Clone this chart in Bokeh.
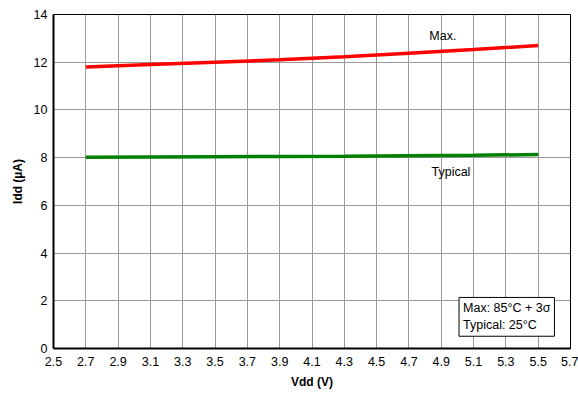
from bokeh.plotting import figure
from bokeh.models import Label, FixedTicker
from bokeh.embed import file_html
from bokeh.resources import INLINE

vdd = [2.7, 3.1, 3.5, 3.9, 4.3, 4.7, 5.1, 5.5]
idd_max = [11.8, 11.9, 12.0, 12.1, 12.23, 12.38, 12.53, 12.7]
idd_typ = [8.02, 8.03, 8.04, 8.05, 8.06, 8.08, 8.1, 8.13]
x_ticks = [2.5, 2.7, 2.9, 3.1, 3.3, 3.5, 3.7, 3.9, 4.1, 4.3, 4.5, 4.7, 4.9, 5.1, 5.3, 5.5, 5.7]
y_ticks = [0, 2, 4, 6, 8, 10, 12, 14]

FONT = "Liberation Sans"

p = figure(width=578, height=394, output_backend="svg", toolbar_location=None,
           x_range=(2.5, 5.7), y_range=(0, 14),
           min_border_left=53, min_border_right=8, min_border_top=14, min_border_bottom=46)
p.frame_width = 517
p.frame_height = 334
p.background_fill_color = "white"
p.border_fill_color = "white"
p.outline_line_color = "black"
p.outline_line_width = 1

p.xaxis.ticker = FixedTicker(ticks=x_ticks)
p.yaxis.ticker = FixedTicker(ticks=y_ticks)
for ax in (p.xaxis[0], p.yaxis[0]):
    ax.axis_line_color = "black"
    ax.axis_line_width = 2
    ax.major_tick_out = 0
    ax.major_tick_in = 0
    ax.minor_tick_out = 0
    ax.minor_tick_in = 0
    ax.major_label_text_font = FONT
    ax.major_label_text_font_size = "12.5px"
    ax.major_label_text_color = "black"
    ax.axis_label_text_font = FONT
    ax.axis_label_text_font_size = "12px"
    ax.axis_label_text_font_style = "bold"
    ax.axis_label_text_color = "black"
p.xaxis.axis_label = "Vdd (V)"
p.yaxis.axis_label = "Idd (µA)"
p.xaxis.major_label_standoff = 8
p.yaxis.major_label_standoff = 6
p.xaxis.axis_label_standoff = 6
p.yaxis.axis_label_standoff = 6

p.grid.grid_line_color = "#999999"
p.grid.grid_line_width = 1
p.grid.grid_line_alpha = 1

p.line(vdd, idd_max, line_color="#ff0000", line_width=3.5)
p.line(vdd, idd_typ, line_color="#008000", line_width=3.5)

p.add_layout(Label(x=4.91, y=13.1, text="Max.", text_align="center", text_baseline="middle",
                   text_font=FONT, text_font_size="12.5px", text_color="black"))
p.add_layout(Label(x=4.96, y=7.38, text="Typical", text_align="center", text_baseline="middle",
                   text_font=FONT, text_font_size="12.5px", text_color="black"))
p.add_layout(Label(x=5.01, y=2.14, text="Max: 85°C + 3σ\nTypical: 25°C", text_align="left",
                   text_baseline="top", text_font=FONT, text_font_size="12.5px", text_color="black",
                   border_line_color="black", border_line_width=1, background_fill_color="white",
                   padding=4))

open("out.html", "w").write(file_html(p, INLINE))
